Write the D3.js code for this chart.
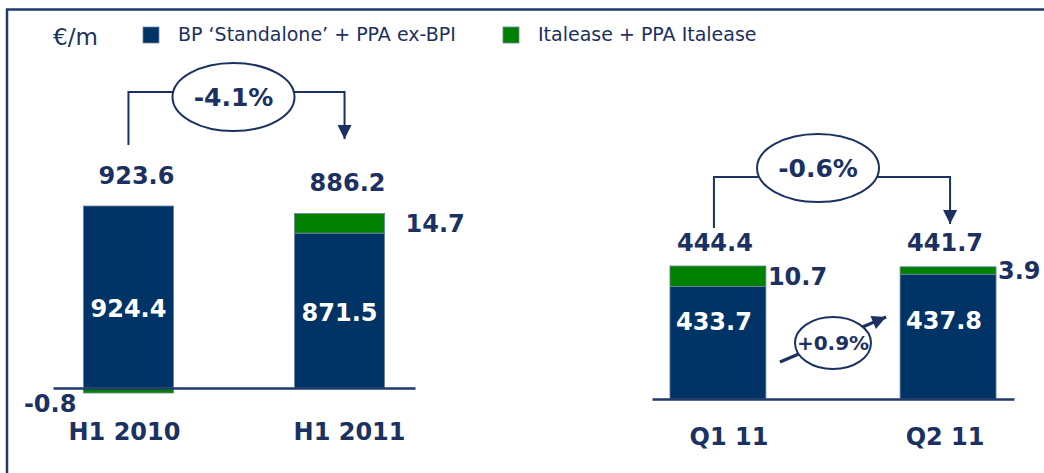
<!DOCTYPE html>
<html>
<head>
<meta charset="utf-8">
<script src="https://cdn.jsdelivr.net/npm/d3@7"></script>
<style>
body{margin:0;background:#fff;}
svg{display:block;font-family:"DejaVu Sans",Verdana,sans-serif;}
</style>
</head>
<body>
<div class="chart"></div>
<script>
// values
var periods = ["H1 2010", "H1 2011", "Q1 11", "Q2 11"];
var standalone = [924.4, 871.5, 433.7, 437.8];
var italease = [-0.8, 14.7, 10.7, 3.9];
var totals = [923.6, 886.2, 444.4, 441.7];
var changes = ["-4.1%", "-0.6%", "+0.9%"];
var seriesNames = ["BP \u2018Standalone\u2019 + PPA ex-BPI", "Italease + PPA Italease"];
var unitLabel = "\u20AC/m";

var W = 1044, H = 473,
	navy = "#003366",
	green = "#008000",
	ink = "#1b3161",
	edge = "#6f83a3";

// slide uses a plain hyphen for negatives
var fmt = function (v) { return v.toFixed(1); };

var svg = d3.select(".chart").append("svg")
	.attr("width", W)
	.attr("height", H);

//arrow head
svg.append("defs").append("marker")
	.attr("id", "head")
	.attr("viewBox", "0 0 10 10")
	.attr("markerUnits", "userSpaceOnUse")
	.attr("markerWidth", 15)
	.attr("markerHeight", 14)
	.attr("refX", 10)
	.attr("refY", 5)
	.attr("orient", "auto")
	.append("path")
	.attr("d", "M0,0L10,5L0,10z")
	.attr("fill", ink);

//frame
svg.append("path")
	.attr("d", "M7," + H + "V9.5H" + W)
	.attr("fill", "none")
	.attr("stroke", "#1f3a6b")
	.attr("stroke-width", 2.5);

//unit + legend
svg.append("text")
	.attr("x", 53).attr("y", 45)
	.attr("font-size", 23)
	.attr("fill", ink)
	.text(unitLabel);

var legend = svg.selectAll(".legend")
	.data(seriesNames)
	.enter().append("g")
	.attr("class", "legend")
	.attr("transform", function (d, i) { return "translate(" + (143 + i * 360) + ",27)"; });

legend.append("rect")
	.attr("width", 16).attr("height", 16)
	.attr("fill", function (d, i) { return i == 0 ? navy : green; })
	.attr("stroke", edge).attr("stroke-width", 0.8);

legend.append("text")
	.attr("x", 35).attr("y", 14)
	.attr("font-size", 19)
	.attr("fill", ink)
	.text(function (d) { return d; });

var drawPanel = function (ids, p) {
	/**
	 * one pair of stacked bars with its change bracket
	 */
	var cats = ids.map(function (i) { return periods[i]; });

	var x = d3.scaleBand()
		.domain(cats)
		.range(p.range)
		.paddingInner(p.pI)
		.paddingOuter(p.pO);

	var y = d3.scaleLinear()
		.domain([0, p.refValue])
		.range([p.base, p.refY]);

	// italease slice is drawn exaggerated on the slide, keep its own scale
	var g = d3.scaleLinear()
		.domain([0, p.gMax])
		.range([0, p.gPx]);

	var bw = x.bandwidth();

	var rows = ids.map(function (i) {
		var gh = Math.max(5, g(Math.abs(italease[i])));
		var r = {cat: periods[i], s: standalone[i], it: italease[i], tot: totals[i], gh: gh};
		if (r.it >= 0) {
			r.gTop = y(r.tot);
			r.bTop = y(r.tot) + gh;
		} else {
			r.bTop = y(r.s);
			r.gTop = p.base;
		}
		return r;
	});

	var bars = svg.selectAll(".bar" + p.id)
		.data(rows)
		.enter().append("g")
		.attr("class", "bar" + p.id);

	bars.append("rect")
		.attr("x", function (d) { return x(d.cat); })
		.attr("y", function (d) { return d.bTop; })
		.attr("width", bw)
		.attr("height", function (d) { return p.base - d.bTop; })
		.attr("fill", navy)
		.attr("stroke", edge).attr("stroke-width", 0.8);

	bars.append("rect")
		.attr("x", function (d) { return x(d.cat); })
		.attr("y", function (d) { return d.gTop; })
		.attr("width", bw)
		.attr("height", function (d) { return d.gh; })
		.attr("fill", green)
		.attr("stroke", edge).attr("stroke-width", 0.8);

	//axis doubles as the baseline
	var axis = svg.append("g")
		.attr("transform", "translate(0," + p.base + ")")
		.call(d3.axisBottom(x).tickSize(0).tickSizeOuter(0).tickPadding(p.tickPad));
	axis.select(".domain")
		.attr("stroke", "#1f3a6b")
		.attr("stroke-width", 2.5);
	axis.selectAll("text")
		.attr("dx", function (d, i) { return p.catDx[i]; })
		.attr("font-family", "DejaVu Sans, Verdana, sans-serif")
		.attr("font-size", 24)
		.attr("font-weight", "bold")
		.attr("fill", ink);

	//totals above
	bars.append("text")
		.attr("x", function (d) { return x(d.cat) + bw / 2 + p.totDx; })
		.attr("y", function (d) { return y(d.tot) - p.totOff; })
		.attr("dy", "0.36em")
		.attr("text-anchor", "middle")
		.attr("font-size", 24).attr("font-weight", "bold")
		.attr("fill", ink)
		.text(function (d) { return fmt(d.tot); });

	//standalone inside
	bars.append("text")
		.attr("x", function (d) { return x(d.cat) + bw / 2 + p.inDx; })
		.attr("y", function (d) { return y(d.s * p.inFrac); })
		.attr("dy", "0.36em")
		.attr("text-anchor", "middle")
		.attr("font-size", 24).attr("font-weight", "bold")
		.attr("fill", "#fff")
		.text(function (d) { return fmt(d.s); });

	//italease beside
	bars.append("text")
		.attr("x", function (d) { return d.it >= 0 ? x(d.cat) + bw + p.itDx : x(d.cat) - 7; })
		.attr("y", function (d) { return d.it >= 0 ? d.gTop + d.gh / 2 : p.base + 15; })
		.attr("dy", "0.36em")
		.attr("text-anchor", function (d) { return d.it >= 0 ? "start" : "end"; })
		.attr("font-size", 24).attr("font-weight", "bold")
		.attr("fill", ink)
		.text(function (d) { return fmt(d.it); });

	//bracket with change
	var x1 = x(cats[0]) + bw / 2 + p.brDx[0],
		x2 = x(cats[1]) + bw / 2 + p.brDx[1];
	svg.append("path")
		.attr("d", "M" + x1 + "," + p.brStart + "V" + p.brLine + "H" + x2 + "V" + p.brTip)
		.attr("fill", "none")
		.attr("stroke", ink)
		.attr("stroke-width", 2)
		.attr("marker-end", "url(#head)");

	var cx = (x1 + x2) / 2 + p.elDx;
	svg.append("ellipse")
		.attr("cx", cx).attr("cy", p.elY)
		.attr("rx", 61).attr("ry", 34)
		.attr("fill", "#fff")
		.attr("stroke", ink).attr("stroke-width", 2);
	svg.append("text")
		.attr("x", cx).attr("y", p.elY)
		.attr("dy", "0.36em")
		.attr("text-anchor", "middle")
		.attr("font-size", 25).attr("font-weight", "bold")
		.attr("fill", ink)
		.text(p.change);

	return {x: x, y: y, bw: bw};
};

var left = drawPanel([0, 1], {
	id: "L", range: [53, 415], pI: 0.573, pO: 0.144,
	base: 388, refValue: 924.4, refY: 206, gMax: 15, gPx: 20,
	tickPad: 35, catDx: [-4, 10], totDx: 8, totOff: 31, inDx: 0, inFrac: 0.44, itDx: 21,
	brDx: [0, 5], brStart: 145, brLine: 92, brTip: 139, elDx: -3, elY: 97,
	change: changes[0]
});

var right = drawPanel([2, 3], {
	id: "R", range: [652, 1014], pI: 0.583, pO: 0.078,
	base: 399, refValue: 444.4, refY: 266, gMax: 11, gPx: 21,
	tickPad: 29, catDx: [11, -3], totDx: -3, totOff: 24, inDx: -4, inFrac: 0.6, itDx: 2,
	brDx: [-4, 2], brStart: 228, brLine: 177, brTip: 224, elDx: -14, elY: 168,
	change: changes[1]
});

//quarter on quarter standalone change
var qa = right.x(periods[2]) + right.bw,
	qb = right.x(periods[3]),
	qBase = right.y(0);
svg.append("path")
	.attr("d", "M" + (qa + 14) + "," + (qBase - 37) + "L" + (qb - 14) + "," + (qBase - 82))
	.attr("stroke", ink)
	.attr("stroke-width", 3)
	.attr("marker-end", "url(#head)");
svg.append("ellipse")
	.attr("cx", (qa + qb) / 2).attr("cy", qBase - 56)
	.attr("rx", 38).attr("ry", 26)
	.attr("fill", "#fff")
	.attr("stroke", ink).attr("stroke-width", 2);
svg.append("text")
	.attr("x", (qa + qb) / 2).attr("y", qBase - 56)
	.attr("dy", "0.36em")
	.attr("text-anchor", "middle")
	.attr("font-size", 20).attr("font-weight", "bold")
	.attr("fill", ink)
	.text(changes[2]);
</script>
</body>
</html>
